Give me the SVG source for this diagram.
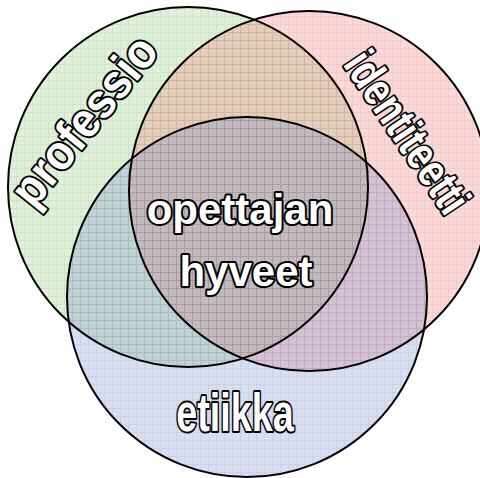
<svg xmlns="http://www.w3.org/2000/svg" width="480" height="478" viewBox="0 0 480 478">
<style>
.c{stroke:none;fill-opacity:0.27}
.o{fill:none;stroke:#000;stroke-width:2}
.t{font-family:"Liberation Sans",Arial,sans-serif;font-weight:bold;fill:#fff;stroke:#000;stroke-width:4;stroke-linejoin:round;paint-order:stroke fill}
</style>
<defs>
<pattern id="gG" width="8" height="8" patternUnits="userSpaceOnUse"><rect width="8" height="8" fill="#8cc86e"/><path d="M0 0h8v1H1v7H0z" fill="#4f9e36"/></pattern>
<pattern id="gR" width="8" height="8" patternUnits="userSpaceOnUse"><rect width="8" height="8" fill="#f06e6e"/><path d="M0 0h8v1H1v7H0z" fill="#d83a3a"/></pattern>
<pattern id="gB" width="8" height="8" patternUnits="userSpaceOnUse"><rect width="8" height="8" fill="#6e82c8"/><path d="M0 0h8v1H1v7H0z" fill="#3e56a8"/></pattern>
</defs>
<rect width="480" height="478" fill="#fff"/>
<g id="fills">
<circle class="c" cx="188" cy="187" r="180" fill="url(#gG)"/>
<circle class="c" cx="309" cy="191" r="180" fill="url(#gR)"/>
<circle class="c" cx="247" cy="297" r="180" fill="url(#gB)"/>
</g>
<g id="professio"><circle class="o" cx="188" cy="187" r="180"/></g>
<g id="identiteetti"><circle class="o" cx="309" cy="191" r="180"/></g>
<g id="etiikka"><circle class="o" cx="247" cy="297" r="180"/></g>
<g id="labels">
<text class="t" font-size="49" text-anchor="middle" transform="translate(97 131) rotate(-51.2) scale(0.92 1)">professio</text>
<text class="t" font-size="47" text-anchor="middle" transform="translate(394 141) rotate(56) scale(0.78 1)">identiteetti</text>
<text class="t" font-size="54" text-anchor="middle" transform="translate(235 431) scale(0.7 1)">etiikka</text>
<text class="t" font-size="42" text-anchor="middle" x="240" y="224">opettajan</text>
<text class="t" font-size="42" text-anchor="middle" x="246" y="286">hyveet</text>
</g>
</svg>
